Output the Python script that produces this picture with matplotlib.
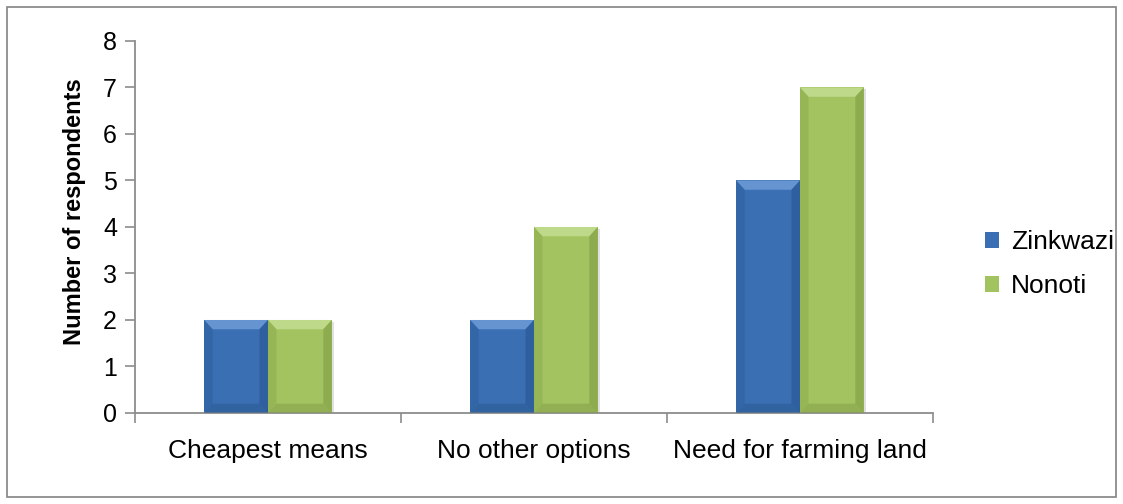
import numpy as np
import matplotlib
matplotlib.use('Agg')
import matplotlib.pyplot as plt
from matplotlib.patches import Polygon, Rectangle

plt.rcParams['font.family'] = ['Liberation Sans', 'DejaVu Sans']

categories = ['Cheapest means', 'No other options', 'Need for farming land']
zinkwazi = [2, 2, 5]
nonoti = [2, 4, 7]

blue = {'face': '#3A6FB3', 'top': '#6594D0', 'side': '#2E5E9C', 'bottom': '#2C5890'}
green = {'face': '#A2C360', 'top': '#BFD98A', 'side': '#8BAA4E', 'bottom': '#839F48'}
axis_grey = '#8C8C8C'


def bevel(ax, bars, pal, bx=0.032, by=0.2):
    # fake the raised-bar look: light top facet, darker side/bottom facets
    for b in bars:
        x0, y0 = b.get_x(), b.get_y()
        x1, y1 = x0 + b.get_width(), y0 + b.get_height()
        # drop shadow
        ax.add_patch(Rectangle((x0 + 0.008, y0), x1 - x0, y1 - y0 - 0.04,
                               facecolor='#000000', alpha=0.12, lw=0, zorder=1))
        top = [(x0, y1), (x1, y1), (x1 - bx, y1 - by), (x0 + bx, y1 - by)]
        left = [(x0, y0), (x0, y1), (x0 + bx, y1 - by), (x0 + bx, y0 + by)]
        right = [(x1, y0), (x1, y1), (x1 - bx, y1 - by), (x1 - bx, y0 + by)]
        bot = [(x0, y0), (x1, y0), (x1 - bx, y0 + by), (x0 + bx, y0 + by)]
        ax.add_patch(Polygon(top, closed=True, facecolor=pal['top'], lw=0, zorder=3))
        ax.add_patch(Polygon(left, closed=True, facecolor=pal['side'], lw=0, zorder=3, alpha=0.5))
        ax.add_patch(Polygon(right, closed=True, facecolor=pal['side'], lw=0, zorder=3, alpha=0.9))
        ax.add_patch(Polygon(bot, closed=True, facecolor=pal['bottom'], lw=0, zorder=3, alpha=0.5))


fig = plt.figure(figsize=(11.23, 5.04), dpi=100)
ax = fig.add_axes([0.1202, 0.1806, 0.7106, 0.7381])

x = np.arange(len(categories))
w = 0.24
b1 = ax.bar(x - w / 2, zinkwazi, w, color=blue['face'], label='Zinkwazi', zorder=2)
b2 = ax.bar(x + w / 2, nonoti, w, color=green['face'], label='Nonoti', zorder=2)
bevel(ax, b1, blue)
bevel(ax, b2, green)

ax.set_xlim(-0.5, len(categories) - 0.5)
ax.set_ylim(0, 8)
ax.set_yticks(range(0, 9))
ax.set_xticks(x)
ax.set_xticklabels(categories, fontsize=19)
ax.set_xticks(np.arange(-0.5, len(categories)), minor=True)
ax.tick_params(axis='x', which='major', length=0, pad=19)
ax.tick_params(axis='x', which='minor', length=7, color=axis_grey, width=1.2)
ax.tick_params(axis='y', labelsize=18, length=7, color=axis_grey, width=1.2, pad=6)
ax.set_ylabel('Number of respondents', fontsize=17, fontweight='bold')
ax.yaxis.set_label_coords(-0.061, 0.54)

for s in ['top', 'right']:
    ax.spines[s].set_visible(False)
for s in ['left', 'bottom']:
    ax.spines[s].set_color(axis_grey)
    ax.spines[s].set_linewidth(1.3)

leg = ax.legend(loc='center left', bbox_to_anchor=(1.065, 0.40), frameon=False,
                fontsize=19, handlelength=0.55, handleheight=0.55, handletextpad=0.45,
                labelspacing=0.75, borderaxespad=0, borderpad=0)

# outer chart border
fig.patches.append(Rectangle((0.006, 0.014), 0.988, 0.972, transform=fig.transFigure,
                             fill=False, edgecolor='#8C8C8C', lw=1.3))

fig.savefig('out.png', dpi=100)
